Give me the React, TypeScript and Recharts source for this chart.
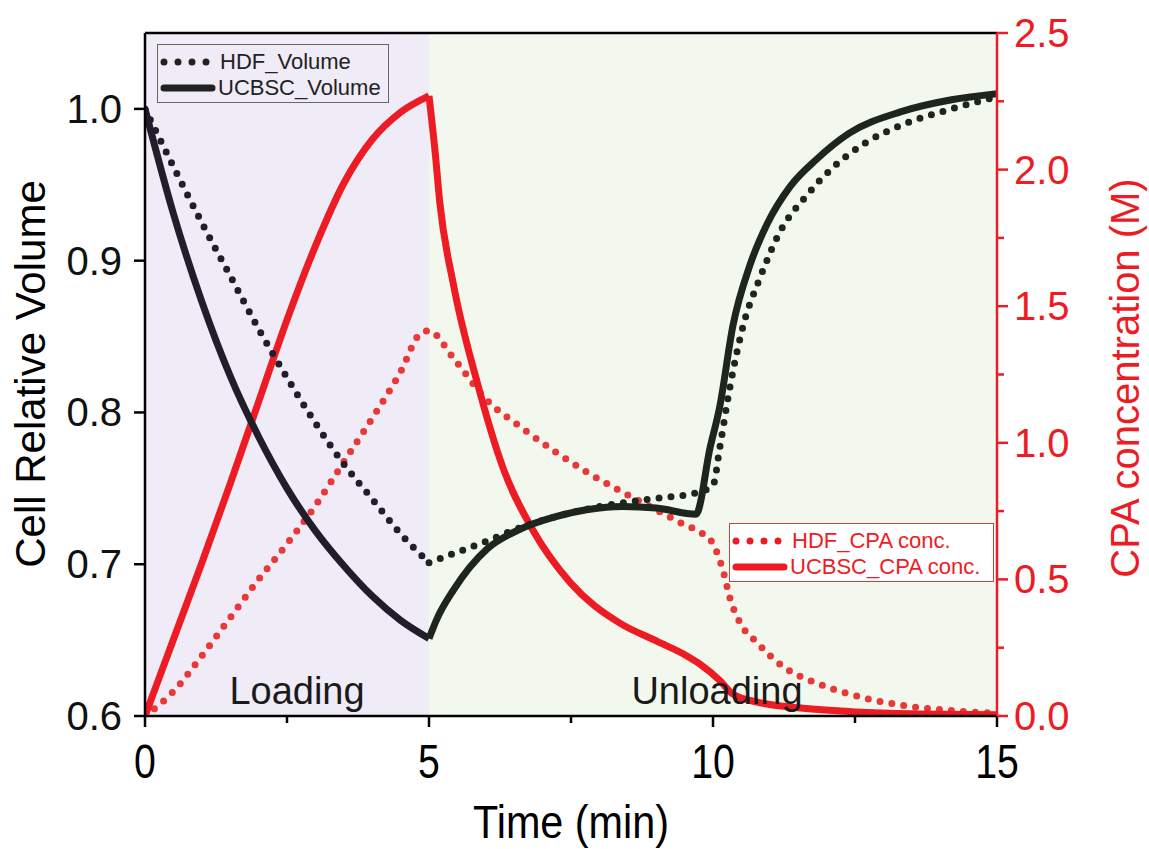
import React from "react"
import { LineChart, Line, XAxis, YAxis, ReferenceArea, ReferenceLine, Label } from "recharts"

// time (min), value pairs
const hdfVolLoad = [
  [0, 1.0], [0.5, 0.962], [1, 0.925], [1.5, 0.89], [2, 0.855], [2.5, 0.823],
  [3, 0.793], [3.5, 0.766], [4, 0.743], [4.5, 0.72], [5, 0.701],
]
const hdfVolUnload = [
  [5, 0.701], [5.43, 0.707], [6.0, 0.715], [6.6, 0.724], [7.2, 0.731], [8.0, 0.738],
  [8.9, 0.743], [9.7, 0.747], [10.0, 0.752], [10.12, 0.777], [10.3, 0.817], [10.53, 0.857],
  [10.83, 0.889], [11.18, 0.919], [11.65, 0.943], [12.1, 0.961], [12.7, 0.978],
  [13.3, 0.989], [14.2, 1.0], [15, 1.008],
]
const ucbscVolLoad = [
  [0, 1.0], [0.5, 0.931], [1, 0.873], [1.5, 0.824], [2, 0.784], [2.5, 0.75],
  [3, 0.722], [3.5, 0.699], [4, 0.679], [4.5, 0.663], [5, 0.651],
]
const ucbscVolUnload = [
  [5, 0.651], [5.14, 0.664], [5.43, 0.683], [6.02, 0.71], [6.6, 0.723], [7.2, 0.731],
  [7.8, 0.736], [8.4, 0.738], [9.0, 0.737], [9.7, 0.733], [9.95, 0.777], [10.12, 0.804],
  [10.35, 0.857], [10.65, 0.897], [10.95, 0.924], [11.36, 0.949], [11.83, 0.967],
  [12.4, 0.984], [13.3, 0.998], [14.2, 1.006], [15, 1.01],
]
const hdfCpa = [
  [0, 0], [0.5, 0.09], [1, 0.22], [1.5, 0.36], [2, 0.5], [2.5, 0.63], [3, 0.77],
  [3.5, 0.93], [4, 1.09], [4.5, 1.26], [4.85, 1.4], [5, 1.41], [5.43, 1.31], [6.0, 1.16],
  [6.6, 1.06], [7.2, 0.97], [7.8, 0.89], [8.4, 0.82], [8.95, 0.76], [9.5, 0.7], [9.8, 0.67],
  [10.0, 0.63], [10.18, 0.53], [10.3, 0.43], [10.48, 0.34], [10.77, 0.27], [11.24, 0.18],
  [11.83, 0.12], [12.41, 0.08], [13.3, 0.04], [14.2, 0.02], [15, 0.01],
]
const ucbscCpaLoad = [
  [0, 0], [0.5, 0.28], [1, 0.56], [1.5, 0.85], [2, 1.15], [2.5, 1.45], [3, 1.72],
  [3.5, 1.95], [4, 2.11], [4.5, 2.21], [5, 2.27],
]
const ucbscCpaUnload = [
  [5, 2.27], [5.11, 2.06], [5.19, 1.88], [5.43, 1.58], [5.85, 1.22], [6.3, 0.91],
  [6.83, 0.68], [7.48, 0.49], [8.36, 0.34], [9.0, 0.275], [9.54, 0.22], [9.77, 0.19],
  [10.12, 0.13], [10.35, 0.08], [10.8, 0.05], [11.5, 0.03], [12.5, 0.015], [13.5, 0.008],
  [15, 0.005],
]

const xTicks = [0, 2.5, 5, 7.5, 10, 12.5, 15]
const volTicks = [0.6, 0.7, 0.8, 0.9, 1.0]
const cpaTicks = [0, 0.25, 0.5, 0.75, 1, 1.25, 1.5, 1.75, 2, 2.25, 2.5]

const volLegend = [
  { name: "HDF_Volume", dotted: true },
  { name: "UCBSC_Volume", dotted: false },
]
const cpaLegend = [
  { name: "HDF_CPA conc.", dotted: true },
  { name: "UCBSC_CPA conc.", dotted: false },
]

const sans = "'Liberation Sans', Arial, sans-serif"
const RED = "#ed1c24"
const RED_DOT = "#e83838"
const DARK = "#211d2b"
const DARK_G = "#1d251c"

const pts = (arr: number[][]) => arr.map(([t, v]) => ({ t, v }))

// condensed text: no narrow font installed, so squeeze horizontally around the anchor
const Narrow = ({ x, y, sx, children, ...rest }: any) => (
  <text x={0} y={0} transform={`translate(${x} ${y}) scale(${sx} 1)`} fontFamily={sans} {...rest}>
    {children}
  </text>
)

const XTick = (props: any) => {
  const { x, y, payload } = props
  const major = payload.value % 5 === 0
  return (
    <g>
      <line x1={x} x2={x} y1={y} y2={y + (major ? 11 : 7)} stroke="#000" strokeWidth={2.5} />
      {major && (
        <Narrow x={x} y={y + 62} sx={0.8} textAnchor="middle" fontSize={49} fill="#000">
          {payload.value}
        </Narrow>
      )}
    </g>
  )
}

const LeftTick = (props: any) => {
  const { x, y, payload } = props
  return (
    <g>
      <line x1={x} x2={x - 11} y1={y} y2={y} stroke="#000" strokeWidth={2.5} />
      <text x={x - 23} y={y + 14} textAnchor="end" fontSize={40} fontFamily={sans} fill="#111">
        {payload.value.toFixed(1)}
      </text>
    </g>
  )
}

const RightTick = (props: any) => {
  const { x, y, payload } = props
  const major = Math.abs(payload.value * 2 - Math.round(payload.value * 2)) < 1e-6
  return (
    <g>
      <line x1={x} x2={x + (major ? 11 : 7)} y1={y} y2={y} stroke={RED} strokeWidth={2.5} />
      {major && (
        <text x={x + 17} y={y + 14} textAnchor="start" fontSize={40} fontFamily={sans} fill={RED}>
          {payload.value.toFixed(1)}
        </text>
      )}
    </g>
  )
}

const Sample = ({ dotted, color, width }: { dotted: boolean; color: string; width: number }) => (
  <svg width={width} height={14} style={{ display: "block", overflow: "visible" }}>
    {dotted ? (
      <line x1={4} x2={width - 6} y1={7} y2={7} stroke={color} strokeWidth={7} strokeLinecap="round" strokeDasharray="0 14" />
    ) : (
      <line x1={4} x2={width - 4} y1={7} y2={7} stroke={color} strokeWidth={7} strokeLinecap="round" />
    )}
  </svg>
)

const LegendBox = ({ items, color, style, border, bg }: any) => (
  <div
    style={{
      position: "absolute",
      border: `1.5px solid ${border}`,
      background: bg,
      boxSizing: "border-box",
      padding: "4px 0 0 2px",
      ...style,
    }}
  >
    {items.map((it: any) => (
      <div key={it.name} style={{ display: "flex", alignItems: "center", height: 26 }}>
        <Sample dotted={it.dotted} color={color} width={56} />
        <span style={{ fontFamily: sans, fontSize: 22, color, marginLeft: it.dotted ? 4 : 2, lineHeight: "26px" }}>
          {it.name}
        </span>
      </div>
    ))}
  </div>
)

export default function App() {
  return (
    <div style={{ position: "absolute", left: 0, top: 0, width: 1149, height: 849, background: "#fff", overflow: "hidden" }}>
      <LineChart width={1149} height={849} margin={{ top: 33, right: 0, left: 0, bottom: 0 }}>
        <XAxis
          type="number"
          dataKey="t"
          domain={[0, 15]}
          ticks={xTicks}
          interval={0}
          height={133}
          tickSize={0}
          tickMargin={0}
          tickLine={false}
          tick={<XTick />}
          stroke="#000"
          strokeWidth={2.5}
          allowDataOverflow
        >
          <Label
            content={() => (
              <Narrow x={571} y={838} sx={0.88} textAnchor="middle" fontSize={47} fill="#000">
                Time (min)
              </Narrow>
            )}
          />
        </XAxis>
        <YAxis
          yAxisId="vol"
          type="number"
          domain={[0.6, 1.05]}
          ticks={volTicks}
          interval={0}
          width={145}
          tickSize={0}
          tickMargin={0}
          tickLine={false}
          tick={<LeftTick />}
          stroke="#000"
          strokeWidth={2.5}
          allowDataOverflow
        >
          <Label
            content={() => (
              <text x={30} y={374} transform="rotate(-90 30 374)" textAnchor="middle" dominantBaseline="central" fontSize={42} fontFamily={sans} fill="#000">
                Cell Relative Volume
              </text>
            )}
          />
        </YAxis>
        <YAxis
          yAxisId="cpa"
          orientation="right"
          type="number"
          domain={[0, 2.5]}
          ticks={cpaTicks}
          interval={0}
          width={152}
          tickSize={0}
          tickMargin={0}
          tickLine={false}
          tick={<RightTick />}
          stroke={RED}
          strokeWidth={2.5}
          allowDataOverflow
        >
          <Label
            content={() => (
              <text x={1125} y={378} transform="rotate(-90 1125 378)" textAnchor="middle" dominantBaseline="central" fontSize={40} fontFamily={sans} fill={RED}>
                CPA concentration (M)
              </text>
            )}
          />
        </YAxis>

        <ReferenceArea yAxisId="vol" x1={0} x2={5} y1={0.6} y2={1.05} fill="#efebf7" fillOpacity={1} stroke="none"
          label={{ value: "Loading", position: "insideBottom", offset: 12, dx: 10, fontSize: 38, fill: "#1a1a1a", fontFamily: sans }} />
        <ReferenceArea yAxisId="vol" x1={5} x2={15} y1={0.6} y2={1.05} fill="#f3f8ee" fillOpacity={1} stroke="none"
          label={{ value: "Unloading", position: "insideBottom", offset: 12, dx: 4, fontSize: 38, fill: "#1a1a1a", fontFamily: sans }} />
        <ReferenceLine yAxisId="vol" y={1.05} stroke="#000" strokeWidth={2.5} />

        <Line yAxisId="cpa" data={pts(hdfCpa)} dataKey="v" type="monotone" stroke={RED_DOT} strokeWidth={7}
          strokeDasharray="0 12" strokeLinecap="round" dot={false} isAnimationActive={false} />
        <Line yAxisId="cpa" data={pts(ucbscCpaLoad)} dataKey="v" type="monotone" stroke={RED} strokeWidth={7}
          dot={false} isAnimationActive={false} />
        <Line yAxisId="cpa" data={pts(ucbscCpaUnload)} dataKey="v" type="monotone" stroke={RED} strokeWidth={7}
          dot={false} isAnimationActive={false} />
        <Line yAxisId="vol" data={pts(hdfVolLoad)} dataKey="v" type="monotone" stroke={DARK} strokeWidth={7}
          strokeDasharray="0 12" strokeLinecap="round" dot={false} isAnimationActive={false} />
        <Line yAxisId="vol" data={pts(hdfVolUnload)} dataKey="v" type="monotone" stroke={DARK_G} strokeWidth={7}
          strokeDasharray="0 12" strokeLinecap="round" dot={false} isAnimationActive={false} />
        <Line yAxisId="vol" data={pts(ucbscVolLoad)} dataKey="v" type="monotone" stroke={DARK} strokeWidth={7}
          dot={false} isAnimationActive={false} />
        <Line yAxisId="vol" data={pts(ucbscVolUnload)} dataKey="v" type="monotone" stroke={DARK_G} strokeWidth={7}
          dot={false} isAnimationActive={false} />
      </LineChart>

      <LegendBox items={volLegend} color="#222" border="#666" bg="transparent"
        style={{ left: 157, top: 44, width: 232, height: 59 }} />
      <LegendBox items={cpaLegend} color={RED} border="#b84848" bg="#fff"
        style={{ left: 729, top: 523, width: 265, height: 59 }} />
    </div>
  )
}
